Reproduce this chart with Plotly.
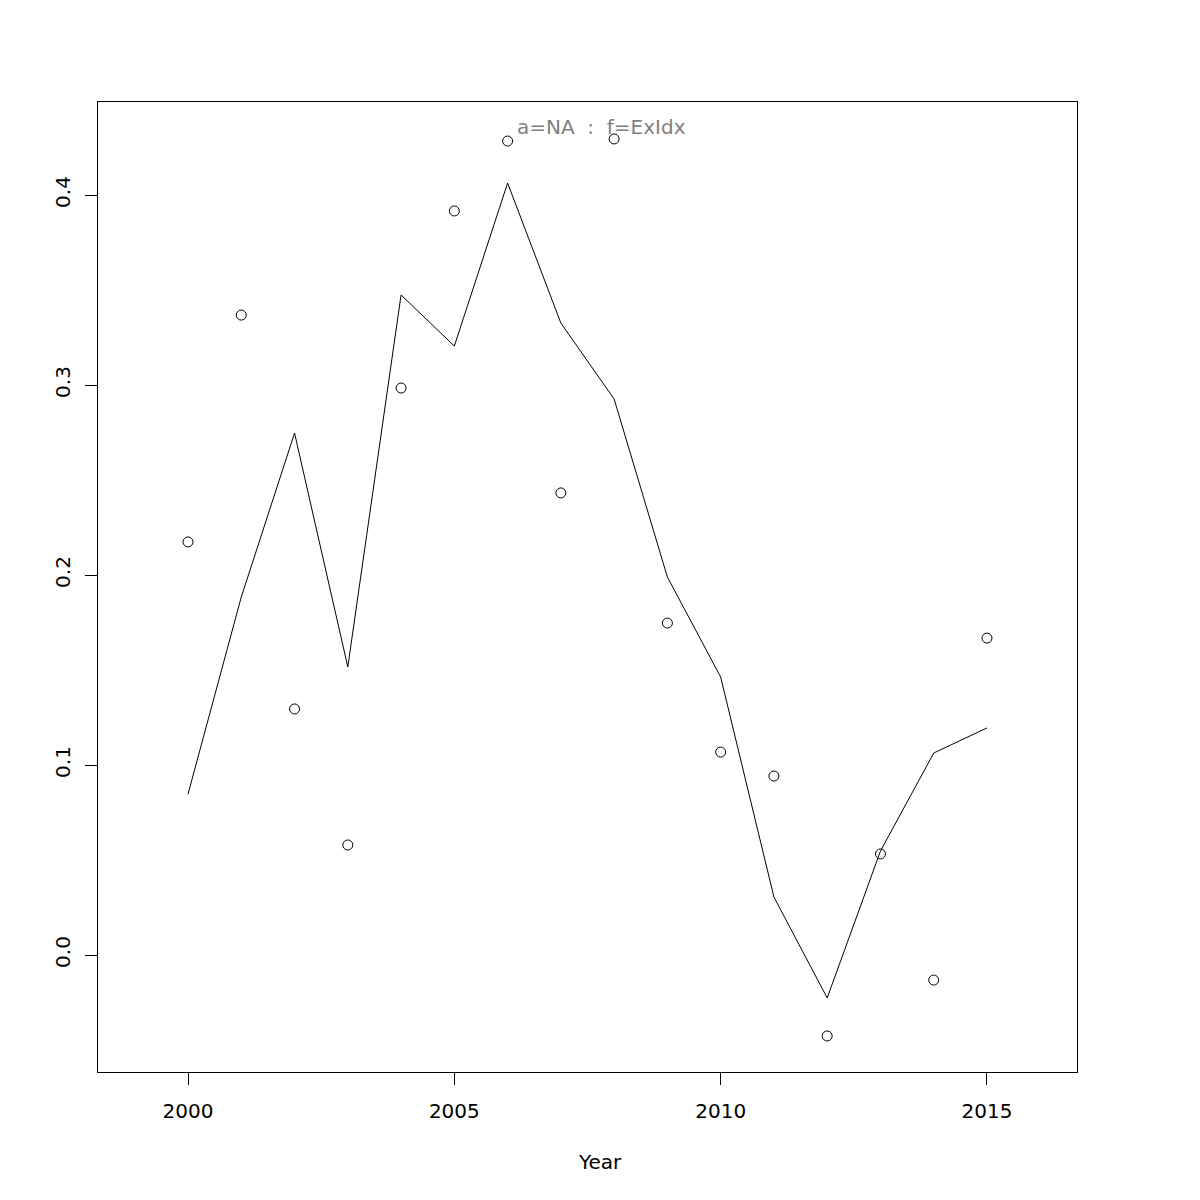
import plotly.graph_objects as go

years = list(range(2000, 2016))
observed = [0.2174, 0.3368, 0.1295, 0.0579, 0.2984, 0.3916, 0.4284, 0.2432,
            0.4295, 0.1747, 0.1068, 0.0942, -0.0426, 0.0532, -0.0132, 0.1668]
fitted = [0.0847, 0.1884, 0.2747, 0.1516, 0.3474, 0.3205, 0.4063, 0.3326,
          0.2926, 0.1989, 0.1463, 0.0305, -0.0226, 0.0547, 0.1063, 0.1195]
x_ticks = [2000, 2005, 2010, 2015]
x_labels = ["2000", "2005", "2010", "2015"]
y_ticks = [0.0, 0.1, 0.2, 0.3, 0.4]
y_labels = ["0.0", "0.1", "0.2", "0.3", "0.4"]
title_text = "a=NA\u00a0\u00a0:\u00a0\u00a0f=ExIdx"
x_title = "Year"

FONT = "DejaVu Sans"
OFF = 8  # page body offset
W = H = 1200
L, T = 98 - OFF, 102 - OFF
R, B = W - (1077 - OFF), H - (1072 - OFF)
pw = W - L - R
ph = H - T - B

fig = go.Figure()
fig.add_trace(go.Scatter(x=years, y=fitted, mode="lines",
                         line=dict(color="black", width=1), showlegend=False))
fig.add_trace(go.Scatter(x=years, y=observed, mode="markers",
                         marker=dict(symbol="circle-open", size=10, color="black",
                                     line=dict(width=1, color="black")),
                         showlegend=False))

fig.update_layout(
    width=W, height=H,
    margin=dict(l=L, r=R, t=T, b=B, pad=0),
    paper_bgcolor="white", plot_bgcolor="white",
    font=dict(family=FONT, size=20, color="black"),
    xaxis=dict(range=[1998.31, 2016.69], tickvals=x_ticks, ticktext=x_labels,
               showgrid=False, zeroline=False, showline=True, mirror=True,
               linecolor="black", linewidth=1, ticks="outside", ticklen=12,
               tickcolor="black", tickwidth=1, ticklabelstandoff=9,
               tickfont=dict(family=FONT, size=20, color="black")),
    yaxis=dict(range=[-0.06158, 0.44895], tickvals=y_ticks, ticktext=y_labels,
               showgrid=False, zeroline=False, showline=True, mirror=True,
               linecolor="black", linewidth=1, ticks="outside", ticklen=12,
               tickcolor="black", tickwidth=1, tickangle=-90, ticklabelstandoff=7,
               tickfont=dict(family=FONT, size=20, color="black")),
    annotations=[
        dict(text=title_text, xref="paper", yref="paper",
             x=(601 - OFF - L) / pw, y=1 - (127 - OFF - T) / ph,
             xanchor="center", yanchor="middle", showarrow=False,
             font=dict(family=FONT, size=20, color="#808080")),
        dict(text=x_title, xref="paper", yref="paper",
             x=(600 - OFF - L) / pw, y=-(1162 - OFF - (H - B)) / ph,
             xanchor="center", yanchor="middle", showarrow=False,
             font=dict(family=FONT, size=20, color="black")),
    ],
)

fig.write_html("out.html")
